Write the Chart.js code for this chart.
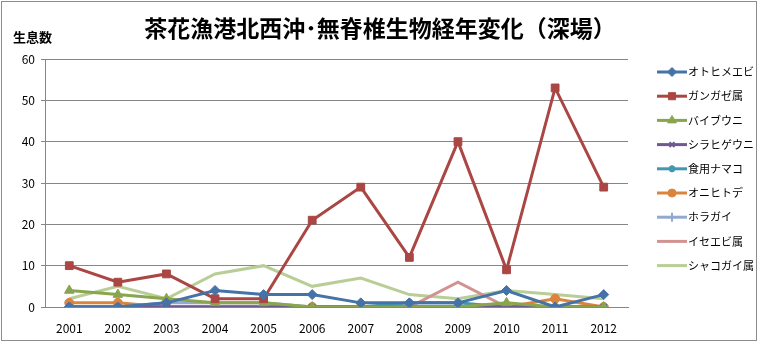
<!DOCTYPE html>
<html>
<head>
<meta charset="utf-8">
<script src="https://cdn.jsdelivr.net/npm/chart.js@4/dist/chart.umd.min.js"></script>
<style>
  html, body { margin: 0; padding: 0; background: #fff; }
  #wrap { width: 759px; height: 343px; }
</style>
</head>
<body>
<div id="wrap"><canvas id="c" width="759" height="343"></canvas></div>
<script>
const years = ["2001","2002","2003","2004","2005","2006","2007","2008","2009","2010","2011","2012"];
const yTicks = [0, 10, 20, 30, 40, 50, 60];

const otohimeEbi  = [0, 0, 1, 4, 3, 3, 1, 1, 1, 4, 0, 3];
const gangazeZoku = [10, 6, 8, 2, 2, 21, 29, 12, 40, 9, 53, 29];
const baibuUni    = [4, 3, 2, 1, 1, 0, 0, 0, 0, 1, 0, 0];
const shirahigeUni = [0, 0, 0, 0, 0, 0, 0, 0, 0, 0, 0, 0];
const shokuyoNamako = [0, 0, 0, 0, 0, 0, 0, 1, 1, 0, 0, 0];
const onihitode   = [1, 1, 0, 0, 0, 0, 0, 0, 0, 0, 2, 0];
const horagai     = [0, 0, 1, 1, 1, 0, 0, 0, 0, 0, 0, 0];
const iseebiZoku  = [0, 0, 0, 0, 0, 0, 0, 0, 6, 0, 0, 0];
const shakogaiZoku = [2, 5, 2, 8, 10, 5, 7, 3, 2, 4, 3, 2];

const FONT = "'Noto Sans CJK JP', 'Noto Sans', sans-serif";

function series(label, data, color, style, radius) {
  return {
    label, data,
    borderColor: color,
    backgroundColor: color,
    borderWidth: 3,
    pointStyle: style,
    pointRadius: style ? radius : 0,
    pointBorderWidth: style === "crossRot" || style === "cross" || style === "star" ? 2 : 1,
    tension: 0
  };
}

const datasets = [
  series("オトヒメエビ", otohimeEbi, "#4572A7", "rectRot", 5),
  series("ガンガゼ属", gangazeZoku, "#AA4643", "rect", 5.5),
  series("バイブウニ", baibuUni, "#89A54E", "triangle", 5.5),
  series("シラヒゲウニ", shirahigeUni, "#71588F", "crossRot", 4),
  series("食用ナマコ", shokuyoNamako, "#4198AF", "star", 4),
  series("オニヒトデ", onihitode, "#DB843D", "circle", 4.5),
  series("ホラガイ", horagai, "#93A9CF", "cross", 5),
  series("イセエビ属", iseebiZoku, "#D19392", false, 0),
  series("シャコガイ属", shakogaiZoku, "#B9CD96", false, 0)
];

const decor = {
  id: "decor",
  afterDraw(chart) {
    const ctx = chart.ctx;
    ctx.save();
    // outer frame
    ctx.strokeStyle = "#8c8c8c";
    ctx.lineWidth = 1;
    ctx.strokeRect(1.5, 1.5, 755, 339);
    // title
    ctx.fillStyle = "#000";
    ctx.textBaseline = "middle";
    ctx.textAlign = "center";
    ctx.font = "bold 23px " + FONT;
    ctx.fillText("茶花漁港北西沖･無脊椎生物経年変化（深場）", 380, 28);
    ctx.textAlign = "left";
    ctx.font = "bold 13px " + FONT;
    ctx.fillText("生息数", 13, 37);
    // legend
    const x0 = 657, y0 = 72, step = 24.2;
    chart.data.datasets.forEach((ds, i) => {
      const y = y0 + i * step;
      ctx.strokeStyle = ds.borderColor;
      ctx.lineWidth = 3;
      ctx.beginPath();
      ctx.moveTo(x0, y);
      ctx.lineTo(x0 + 30, y);
      ctx.stroke();
      if (ds.pointStyle) {
        ctx.fillStyle = ds.backgroundColor;
        ctx.lineWidth = ds.pointBorderWidth;
        Chart.helpers.drawPoint(ctx, {
          pointStyle: ds.pointStyle, radius: ds.pointRadius - 0.5,
          borderWidth: ds.pointBorderWidth, rotation: 0
        }, x0 + 15, y);
      }
      ctx.fillStyle = "#000";
      ctx.font = "11px " + FONT;
      ctx.fillText(ds.label, x0 + 31, y);
    });
    ctx.restore();
  }
};

new Chart(document.getElementById("c"), {
  type: "line",
  data: { labels: years, datasets },
  plugins: [decor],
  options: {
    responsive: false,
    animation: false,
    layout: { padding: { top: 59, right: 131, left: 0, bottom: 0 } },
    plugins: { legend: { display: false }, tooltip: { enabled: false } },
    scales: {
      x: {
        offset: true,
        grid: { display: false, drawTicks: true },
        border: { color: "#868686", width: 1 },
        ticks: { color: "#000", font: { family: FONT, size: 12 }, maxRotation: 0, padding: 6 },
        afterFit(s) { s.height = 36; }
      },
      y: {
        min: 0, max: 60,
        afterBuildTicks(s) { s.ticks = yTicks.map(v => ({ value: v })); },
        grid: { color: "#868686", tickLength: 4 },
        border: { color: "#868686", width: 1 },
        ticks: { color: "#000", font: { family: FONT, size: 12 }, padding: 6 },
        afterFit(s) { s.width = 45; }
      }
    }
  }
});
</script>
</body>
</html>
